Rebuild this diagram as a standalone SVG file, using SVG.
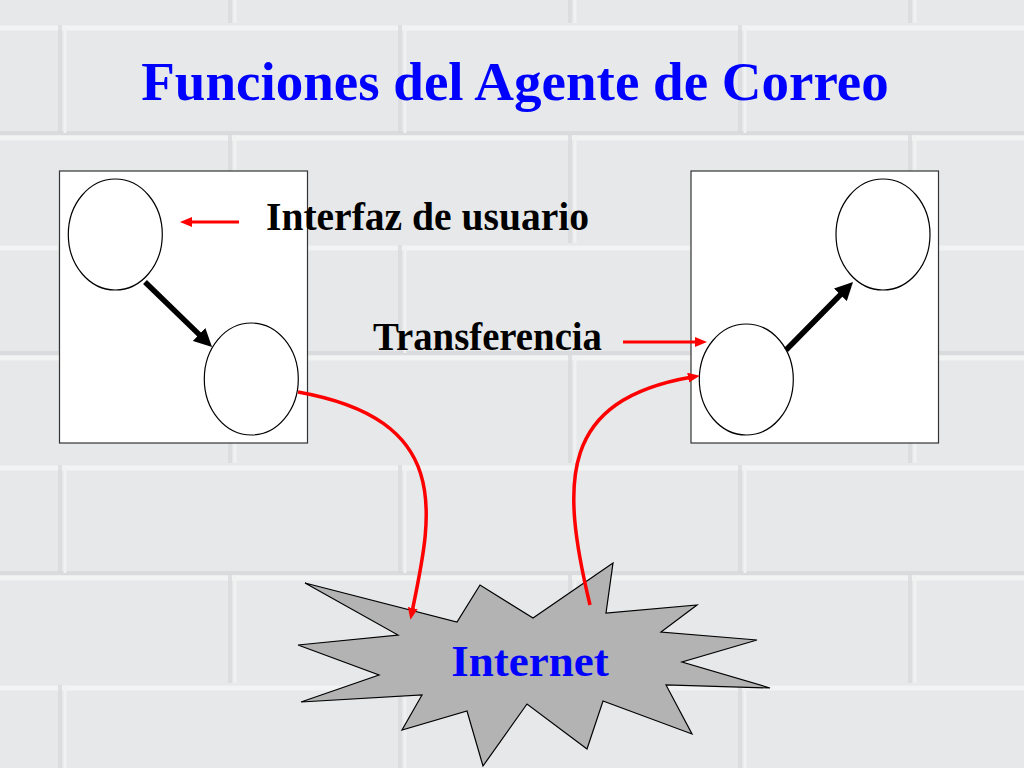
<svg xmlns="http://www.w3.org/2000/svg" width="1024" height="768" viewBox="0 0 1024 768">
  <defs>
    <pattern id="bricks" patternUnits="userSpaceOnUse" x="-60" y="25" width="340" height="220">
      <rect x="0" y="0" width="340" height="220" fill="#e6e8e9"/>
      <path d="M0,3 H340 M0,113 H340" stroke="#f2f3f3" stroke-width="5" fill="none"/>
      <path d="M0,-2 H340 M0,108 H340" stroke="#d3d6d7" stroke-width="4" fill="none" opacity="0.7"/>
      <path d="M120,0 V108 M290,110 V218" stroke="#d6d9da" stroke-width="4" fill="none" opacity="0.7"/>
      <path d="M125,0 V108 M295,110 V218" stroke="#f0f1f1" stroke-width="3" fill="none"/>
    </pattern>
    <marker id="redHead" markerUnits="userSpaceOnUse" markerWidth="12" markerHeight="10" refX="4" refY="5" orient="auto">
      <path d="M0,0 L12,5 L0,10 z" fill="#ff0000"/>
    </marker>
    <marker id="blackHead" markerUnits="userSpaceOnUse" markerWidth="18" markerHeight="18" refX="6" refY="9" orient="auto">
      <path d="M0,0 L18,9 L0,18 z" fill="#000000"/>
    </marker>
  </defs>
  <style>
    .box { fill: #ffffff; stroke: #333333; stroke-width: 1.2; }
    .agent { fill: #ffffff; stroke: #000000; stroke-width: 1.2; }
    .red { fill: none; stroke: #ff0000; stroke-width: 3.5; marker-end: url(#redHead); }
    .redthin { fill: none; stroke: #ff0000; stroke-width: 3; marker-end: url(#redHead); }
    .black { fill: none; stroke: #000000; stroke-width: 5.5; marker-end: url(#blackHead); }
    .label { font-family: "Liberation Serif", "Times New Roman", serif; font-weight: bold; fill: #000000; }
    .title { font-family: "Liberation Serif", "Times New Roman", serif; font-weight: bold; fill: #0000ff; }
  </style>

  <rect x="0" y="0" width="1024" height="768" fill="url(#bricks)"/>

  <text class="title" x="515" y="100" font-size="55" text-anchor="middle">Funciones del Agente de Correo</text>

  <g id="sender">
    <rect class="box" x="59.5" y="171" width="248" height="272"/>
  </g>
  <g id="sender-ui">
    <ellipse class="agent" cx="115.3" cy="234.5" rx="47" ry="55.5"/>
  </g>
  <g id="sender-transfer">
    <ellipse class="agent" cx="251.3" cy="379" rx="47" ry="56"/>
  </g>

  <g id="receiver">
    <rect class="box" x="691" y="171" width="247.5" height="272"/>
  </g>
  <g id="receiver-ui">
    <ellipse class="agent" cx="883" cy="234.5" rx="47" ry="55.5"/>
  </g>
  <g id="receiver-transfer">
    <ellipse class="agent" cx="746.3" cy="379.5" rx="47" ry="55.5"/>
  </g>

  <g id="internet">
    <polygon points="305,583 457,622 480,585 533,618 613,563 606,613 697,605 661,632 757,640 682,662 770,688 666,685 692,734 603,701 587,749 527,704 483,766 467,711 402,730 422,695 301,702 379,675 298,645 398,635" fill="#b3b3b3" stroke="#000000" stroke-width="1.2" stroke-linejoin="miter"/>
    <text x="530" y="676" font-size="45" text-anchor="middle" font-family="Liberation Serif, Times New Roman, serif" font-weight="bold" fill="#0000ff">Internet</text>
  </g>

  <g id="labels">
    <text class="label" x="266" y="230" font-size="39" textLength="323" lengthAdjust="spacingAndGlyphs">Interfaz de usuario</text>
    <text class="label" x="373" y="350" font-size="39" textLength="229" lengthAdjust="spacingAndGlyphs">Transferencia</text>
  </g>

  <g id="connectors">
    <line class="black" x1="145" y1="282" x2="203.4" y2="338.6"/>
    <line class="black" x1="786" y1="350" x2="844.6" y2="290.5"/>
    <line class="redthin" x1="239" y1="222" x2="188" y2="222"/>
    <line class="redthin" x1="623" y1="342" x2="699" y2="342"/>
    <path class="red" d="M298,392 C455,420 432,515 412,612"/>
    <path class="red" d="M590,605 C560,480 560,400 692,377"/>
  </g>
</svg>
